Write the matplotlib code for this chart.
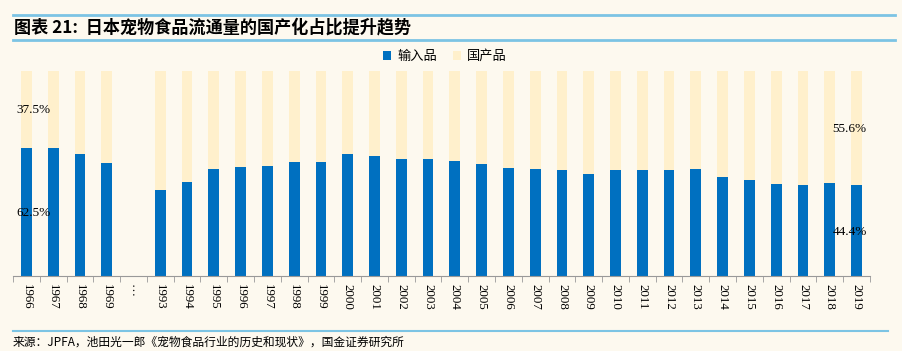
import matplotlib
matplotlib.use("Agg")
import matplotlib.pyplot as plt
import numpy as np

plt.rcParams['font.family'] = ['Liberation Serif', 'Noto Sans CJK SC']

# data
years = ['1966', '1967', '1968', '1969', '…',
         '1993', '1994', '1995', '1996', '1997', '1998', '1999', '2000',
         '2001', '2002', '2003', '2004', '2005', '2006', '2007', '2008',
         '2009', '2010', '2011', '2012', '2013', '2014', '2015', '2016',
         '2017', '2018', '2019']
imported = [62.5, 62.5, 59.5, 55.1, 0,
            42.0, 46.0, 52.2, 53.3, 53.7, 55.8, 55.5, 59.5,
            58.7, 57.2, 57.1, 56.1, 54.8, 52.7, 52.2, 51.7,
            49.6, 51.6, 51.7, 51.7, 52.2, 48.4, 47.0, 44.7,
            44.6, 45.2, 44.4]
domestic = [100 - v if y != '…' else 0 for v, y in zip(imported, years)]

blue = '#0070C0'
cream = '#FFF0CC'
bg = '#FDF9EF'
line_blue = '#7CC4E4'

fig = plt.figure(figsize=(9.02, 3.51), dpi=100, facecolor=bg)
ax = fig.add_axes([0.0144, 0.2137, 0.95, 0.584], facecolor=bg)

x = np.arange(len(years))
ax.bar(x, imported, width=0.4, color=blue, label='输入品')
ax.bar(x, domestic, width=0.4, bottom=imported, color=cream, label='国产品')

ax.set_xlim(-0.5, len(years) - 0.5)
ax.set_ylim(0, 100)
ax.set_yticks([])
for s in ['top', 'right', 'left']:
    ax.spines[s].set_visible(False)
ax.spines['bottom'].set_color('#999999')

ax.set_xticks(x)
ax.set_xticklabels(years, rotation=270, fontsize=9.3)
ax.set_xticks(np.arange(len(years) + 1) - 0.5, minor=True)
ax.tick_params(axis='x', which='major', length=0, pad=6)
ax.tick_params(axis='x', which='minor', length=4, color='#999999')

# percent labels
ax.text(0.27, 81, '37.5%', fontsize=9.5, ha='center', va='center')
ax.text(0.27, 30.7, '62.5%', fontsize=9.5, ha='center', va='center')
ax.text(30.74, 71.7, '55.6%', fontsize=9.5, ha='center', va='center')
ax.text(30.74, 21.6, '44.4%', fontsize=9.5, ha='center', va='center')

leg = ax.legend(loc='lower center', bbox_to_anchor=(0.504, 0.98), ncol=2,
                frameon=False, handlelength=0.6, handleheight=0.6,
                columnspacing=1.2, handletextpad=0.5,
                prop={'family': 'Noto Sans CJK SC', 'size': 9.5})

# title block
fig.add_artist(plt.Line2D([0.0144, 0.992], [1 - 15 / 351, 1 - 15 / 351],
                          color=line_blue, lw=2))
fig.add_artist(plt.Line2D([0.0144, 0.992], [1 - 40 / 351, 1 - 40 / 351],
                          color=line_blue, lw=2))
fig.text(0.016, 1 - 27.5 / 351, '图表 21:  日本宠物食品流通量的国产化占比提升趋势',
         fontsize=12.3, fontweight='bold', va='center', ha='left',
         family=['Noto Sans CJK SC', 'DejaVu Sans'], style='italic')

# source
fig.add_artist(plt.Line2D([0.0144, 0.984], [1 - 331 / 351, 1 - 331 / 351],
                          color=line_blue, lw=1.5))
fig.text(0.014, 1 - 342 / 351,
         '来源：JPFA，池田光一郎《宠物食品行业的历史和现状》，国金证券研究所',
         fontsize=8.5, va='center', ha='left', family=['Noto Sans CJK SC'])

fig.savefig('out.png', dpi=100, facecolor=bg)
